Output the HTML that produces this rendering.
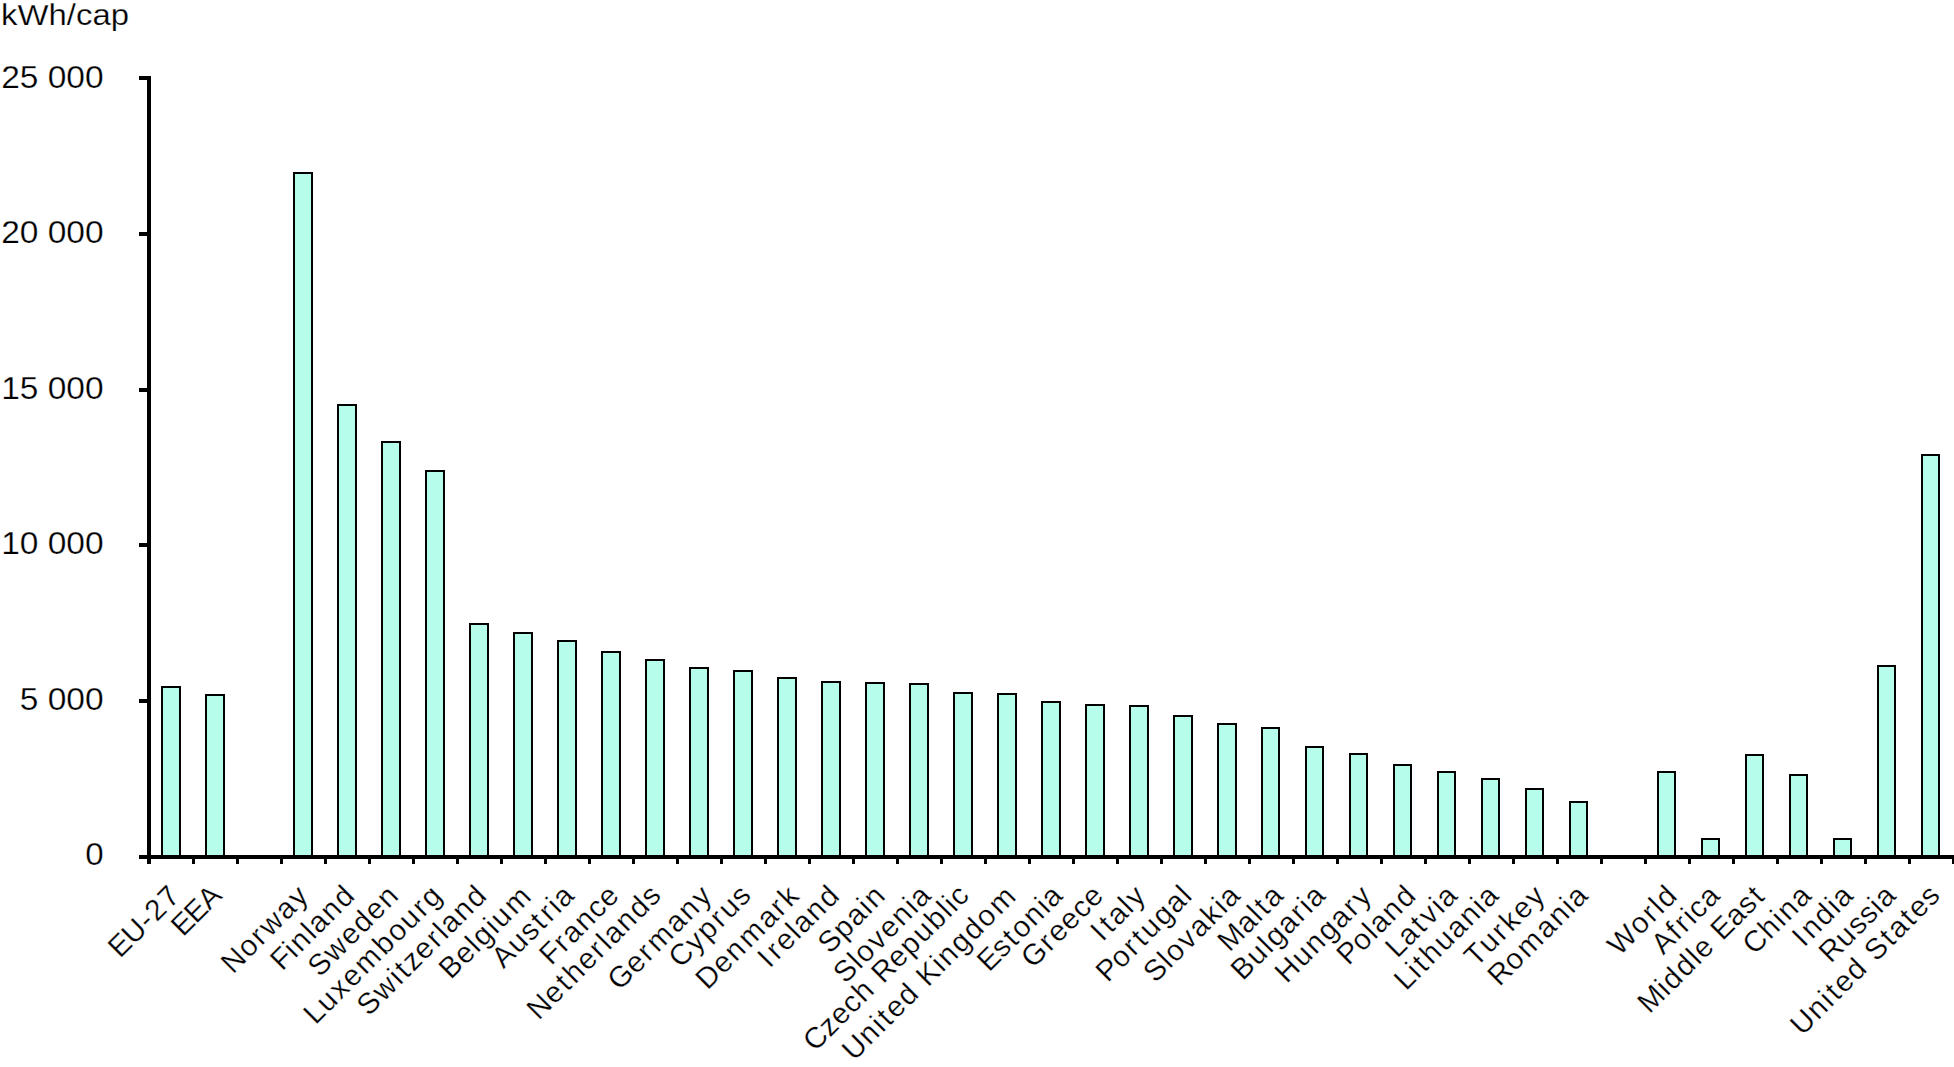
<!DOCTYPE html><html><head><meta charset="utf-8"><style>html,body{margin:0;padding:0;background:#fff;width:1954px;height:1067px;overflow:hidden}svg{display:block}text{font-family:"Liberation Sans",sans-serif;fill:#000;stroke:#fff;stroke-width:0.25px}</style></head><body>
<svg width="1954" height="1067" viewBox="0 0 1954 1067">
<rect x="162" y="687" width="18" height="170" fill="#b6fdec" stroke="#000" stroke-width="2"/>
<rect x="206" y="695" width="18" height="162" fill="#b6fdec" stroke="#000" stroke-width="2"/>
<rect x="294" y="173" width="18" height="684" fill="#b6fdec" stroke="#000" stroke-width="2"/>
<rect x="338" y="405" width="18" height="452" fill="#b6fdec" stroke="#000" stroke-width="2"/>
<rect x="382" y="442" width="18" height="415" fill="#b6fdec" stroke="#000" stroke-width="2"/>
<rect x="426" y="471" width="18" height="386" fill="#b6fdec" stroke="#000" stroke-width="2"/>
<rect x="470" y="624" width="18" height="233" fill="#b6fdec" stroke="#000" stroke-width="2"/>
<rect x="514" y="633" width="18" height="224" fill="#b6fdec" stroke="#000" stroke-width="2"/>
<rect x="558" y="641" width="18" height="216" fill="#b6fdec" stroke="#000" stroke-width="2"/>
<rect x="602" y="652" width="18" height="205" fill="#b6fdec" stroke="#000" stroke-width="2"/>
<rect x="646" y="660" width="18" height="197" fill="#b6fdec" stroke="#000" stroke-width="2"/>
<rect x="690" y="668" width="18" height="189" fill="#b6fdec" stroke="#000" stroke-width="2"/>
<rect x="734" y="671" width="18" height="186" fill="#b6fdec" stroke="#000" stroke-width="2"/>
<rect x="778" y="678" width="18" height="179" fill="#b6fdec" stroke="#000" stroke-width="2"/>
<rect x="822" y="682" width="18" height="175" fill="#b6fdec" stroke="#000" stroke-width="2"/>
<rect x="866" y="683" width="18" height="174" fill="#b6fdec" stroke="#000" stroke-width="2"/>
<rect x="910" y="684" width="18" height="173" fill="#b6fdec" stroke="#000" stroke-width="2"/>
<rect x="954" y="693" width="18" height="164" fill="#b6fdec" stroke="#000" stroke-width="2"/>
<rect x="998" y="694" width="18" height="163" fill="#b6fdec" stroke="#000" stroke-width="2"/>
<rect x="1042" y="702" width="18" height="155" fill="#b6fdec" stroke="#000" stroke-width="2"/>
<rect x="1086" y="705" width="18" height="152" fill="#b6fdec" stroke="#000" stroke-width="2"/>
<rect x="1130" y="706" width="18" height="151" fill="#b6fdec" stroke="#000" stroke-width="2"/>
<rect x="1174" y="716" width="18" height="141" fill="#b6fdec" stroke="#000" stroke-width="2"/>
<rect x="1218" y="724" width="18" height="133" fill="#b6fdec" stroke="#000" stroke-width="2"/>
<rect x="1262" y="728" width="17" height="129" fill="#b6fdec" stroke="#000" stroke-width="2"/>
<rect x="1306" y="747" width="17" height="110" fill="#b6fdec" stroke="#000" stroke-width="2"/>
<rect x="1350" y="754" width="17" height="103" fill="#b6fdec" stroke="#000" stroke-width="2"/>
<rect x="1394" y="765" width="17" height="92" fill="#b6fdec" stroke="#000" stroke-width="2"/>
<rect x="1438" y="772" width="17" height="85" fill="#b6fdec" stroke="#000" stroke-width="2"/>
<rect x="1482" y="779" width="17" height="78" fill="#b6fdec" stroke="#000" stroke-width="2"/>
<rect x="1526" y="789" width="17" height="68" fill="#b6fdec" stroke="#000" stroke-width="2"/>
<rect x="1570" y="802" width="17" height="55" fill="#b6fdec" stroke="#000" stroke-width="2"/>
<rect x="1658" y="772" width="17" height="85" fill="#b6fdec" stroke="#000" stroke-width="2"/>
<rect x="1702" y="839" width="17" height="18" fill="#b6fdec" stroke="#000" stroke-width="2"/>
<rect x="1746" y="755" width="17" height="102" fill="#b6fdec" stroke="#000" stroke-width="2"/>
<rect x="1790" y="775" width="17" height="82" fill="#b6fdec" stroke="#000" stroke-width="2"/>
<rect x="1834" y="839" width="17" height="18" fill="#b6fdec" stroke="#000" stroke-width="2"/>
<rect x="1878" y="666" width="17" height="191" fill="#b6fdec" stroke="#000" stroke-width="2"/>
<rect x="1922" y="455" width="17" height="402" fill="#b6fdec" stroke="#000" stroke-width="2"/>
<rect x="147" y="76" width="4" height="788" fill="#000"/>
<rect x="139" y="855" width="1815" height="4" fill="#000"/>
<rect x="139" y="855" width="10" height="4" fill="#000"/>
<rect x="139" y="699" width="10" height="4" fill="#000"/>
<rect x="139" y="543" width="10" height="4" fill="#000"/>
<rect x="139" y="388" width="10" height="4" fill="#000"/>
<rect x="139" y="232" width="10" height="4" fill="#000"/>
<rect x="139" y="76" width="10" height="4" fill="#000"/>
<rect x="148" y="857" width="3" height="7" fill="#000"/>
<rect x="192" y="857" width="3" height="7" fill="#000"/>
<rect x="236" y="857" width="3" height="7" fill="#000"/>
<rect x="280" y="857" width="3" height="7" fill="#000"/>
<rect x="324" y="857" width="3" height="7" fill="#000"/>
<rect x="368" y="857" width="3" height="7" fill="#000"/>
<rect x="412" y="857" width="3" height="7" fill="#000"/>
<rect x="456" y="857" width="3" height="7" fill="#000"/>
<rect x="500" y="857" width="3" height="7" fill="#000"/>
<rect x="544" y="857" width="3" height="7" fill="#000"/>
<rect x="588" y="857" width="3" height="7" fill="#000"/>
<rect x="632" y="857" width="3" height="7" fill="#000"/>
<rect x="676" y="857" width="3" height="7" fill="#000"/>
<rect x="720" y="857" width="3" height="7" fill="#000"/>
<rect x="764" y="857" width="3" height="7" fill="#000"/>
<rect x="808" y="857" width="3" height="7" fill="#000"/>
<rect x="852" y="857" width="3" height="7" fill="#000"/>
<rect x="896" y="857" width="3" height="7" fill="#000"/>
<rect x="940" y="857" width="3" height="7" fill="#000"/>
<rect x="984" y="857" width="3" height="7" fill="#000"/>
<rect x="1028" y="857" width="3" height="7" fill="#000"/>
<rect x="1072" y="857" width="3" height="7" fill="#000"/>
<rect x="1116" y="857" width="3" height="7" fill="#000"/>
<rect x="1160" y="857" width="3" height="7" fill="#000"/>
<rect x="1204" y="857" width="3" height="7" fill="#000"/>
<rect x="1248" y="857" width="3" height="7" fill="#000"/>
<rect x="1292" y="857" width="3" height="7" fill="#000"/>
<rect x="1336" y="857" width="3" height="7" fill="#000"/>
<rect x="1380" y="857" width="3" height="7" fill="#000"/>
<rect x="1424" y="857" width="3" height="7" fill="#000"/>
<rect x="1468" y="857" width="3" height="7" fill="#000"/>
<rect x="1512" y="857" width="3" height="7" fill="#000"/>
<rect x="1556" y="857" width="3" height="7" fill="#000"/>
<rect x="1600" y="857" width="3" height="7" fill="#000"/>
<rect x="1644" y="857" width="3" height="7" fill="#000"/>
<rect x="1688" y="857" width="3" height="7" fill="#000"/>
<rect x="1732" y="857" width="3" height="7" fill="#000"/>
<rect x="1776" y="857" width="3" height="7" fill="#000"/>
<rect x="1820" y="857" width="3" height="7" fill="#000"/>
<rect x="1864" y="857" width="3" height="7" fill="#000"/>
<rect x="1908" y="857" width="3" height="7" fill="#000"/>
<rect x="1952" y="857" width="3" height="7" fill="#000"/>
<text x="103.6" y="865.00" font-size="31" text-anchor="end" textLength="18.4" lengthAdjust="spacingAndGlyphs">0</text>
<text x="103.6" y="709.60" font-size="31" text-anchor="end" textLength="83.9" lengthAdjust="spacingAndGlyphs">5 000</text>
<text x="103.6" y="554.20" font-size="31" text-anchor="end" textLength="102.4" lengthAdjust="spacingAndGlyphs">10 000</text>
<text x="103.6" y="398.80" font-size="31" text-anchor="end" textLength="102.4" lengthAdjust="spacingAndGlyphs">15 000</text>
<text x="103.6" y="243.40" font-size="31" text-anchor="end" textLength="102.4" lengthAdjust="spacingAndGlyphs">20 000</text>
<text x="103.6" y="88.00" font-size="31" text-anchor="end" textLength="102.4" lengthAdjust="spacingAndGlyphs">25 000</text>
<text x="1" y="25" font-size="29.5" textLength="128.0" lengthAdjust="spacingAndGlyphs">kWh/cap</text>
<text transform="translate(175.00,890) rotate(-45) scale(1.0,1)" x="-87.71 -68.74 -47.09 -35.86 -17.42" y="10" font-size="29.5">EU-27</text>
<text transform="translate(216.29,890) rotate(-45) scale(1.0,1)" x="-57.17 -38.84 -19.76" y="10" font-size="29.5">EEA</text>
<text transform="translate(303.57,890) rotate(-45) scale(1.0,1)" x="-109.80 -87.71 -69.42 -57.11 -34.09 -15.96" y="10" font-size="29.5">Norway</text>
<text transform="translate(349.66,890) rotate(-45) scale(1.0,1)" x="-105.45 -87.41 -79.18 -61.10 -53.34 -35.45 -17.24" y="10" font-size="29.5">Finland</text>
<text transform="translate(393.55,890) rotate(-45) scale(1.0,1)" x="-114.47 -93.50 -70.55 -52.88 -35.20 -17.38" y="10" font-size="29.5">Sweden</text>
<text transform="translate(436.94,890) rotate(-45) scale(1.0,1)" x="-181.78 -164.53 -145.94 -129.54 -110.87 -83.65 -65.81 -47.83 -29.17 -17.24" y="10" font-size="29.5">Luxembourg</text>
<text transform="translate(481.63,890) rotate(-45) scale(1.0,1)" x="-169.54 -148.58 -125.37 -116.50 -106.45 -91.03 -72.90 -61.10 -53.34 -35.45 -17.24" y="10" font-size="29.5">Switzerland</text>
<text transform="translate(526.92,890) rotate(-45) scale(1.0,1)" x="-117.60 -97.38 -79.84 -71.76 -53.82 -45.60 -26.40" y="10" font-size="29.5">Belgium</text>
<text transform="translate(568.91,890) rotate(-45) scale(1.0,1)" x="-102.41 -81.67 -64.11 -47.57 -36.48 -24.68 -16.92" y="10" font-size="29.5">Austria</text>
<text transform="translate(613.50,890) rotate(-45) scale(1.0,1)" x="-97.91 -79.28 -67.67 -49.77 -32.21 -16.85" y="10" font-size="29.5">France</text>
<text transform="translate(655.49,890) rotate(-45) scale(1.0,1)" x="-175.14 -153.20 -134.74 -123.96 -106.14 -88.01 -76.21 -68.45 -50.56 -32.35 -14.93" y="10" font-size="29.5">Netherlands</text>
<text transform="translate(706.88,890) rotate(-45) scale(1.0,1)" x="-133.55 -110.40 -92.27 -79.35 -52.44 -34.55 -15.96" y="10" font-size="29.5">Germany</text>
<text transform="translate(745.57,890) rotate(-45) scale(1.0,1)" x="-101.86 -79.88 -63.09 -44.57 -32.49 -14.93" y="10" font-size="29.5">Cyprus</text>
<text transform="translate(794.26,890) rotate(-45) scale(1.0,1)" x="-132.65 -110.40 -92.58 -73.38 -46.47 -28.27 -15.96" y="10" font-size="29.5">Denmark</text>
<text transform="translate(834.25,890) rotate(-45) scale(1.0,1)" x="-101.68 -90.19 -78.64 -61.10 -53.34 -35.45 -17.24" y="10" font-size="29.5">Ireland</text>
<text transform="translate(880.24,890) rotate(-45) scale(1.0,1)" x="-81.56 -60.97 -43.22 -25.61 -17.38" y="10" font-size="29.5">Spain</text>
<text transform="translate(925.53,890) rotate(-45) scale(1.0,1)" x="-123.49 -103.04 -95.19 -76.98 -60.58 -42.76 -24.68 -16.92" y="10" font-size="29.5">Slovenia</text>
<text transform="translate(963.42,890) rotate(-45) scale(1.0,1)" x="-219.88 -198.86 -183.44 -166.41 -150.51 -132.13 -123.51 -102.34 -84.66 -66.45 -48.24 -30.30 -22.36 -14.93" y="10" font-size="29.5">Czech Republic</text>
<text transform="translate(1011.51,890) rotate(-45) scale(1.0,1)" x="-232.90 -210.66 -192.58 -183.71 -173.46 -155.79 -137.55 -128.14 -107.56 -99.34 -81.12 -63.06 -45.22 -26.40" y="10" font-size="29.5">United Kingdom</text>
<text transform="translate(1057.50,890) rotate(-45) scale(1.0,1)" x="-106.87 -87.69 -71.15 -60.74 -42.76 -24.68 -16.92" y="10" font-size="29.5">Estonia</text>
<text transform="translate(1098.09,890) rotate(-45) scale(1.0,1)" x="-102.05 -78.06 -66.52 -49.24 -32.21 -16.85" y="10" font-size="29.5">Greece</text>
<text transform="translate(1140.78,890) rotate(-45) scale(1.0,1)" x="-64.19 -52.35 -42.03 -24.42 -15.96" y="10" font-size="29.5">Italy</text>
<text transform="translate(1186.77,890) rotate(-45) scale(1.0,1)" x="-121.79 -102.61 -84.33 -71.61 -60.82 -42.61 -24.86 -7.25" y="10" font-size="29.5">Portugal</text>
<text transform="translate(1234.86,890) rotate(-45) scale(1.0,1)" x="-122.45 -101.99 -94.14 -75.93 -59.46 -41.33 -24.68 -16.92" y="10" font-size="29.5">Slovakia</text>
<text transform="translate(1278.05,890) rotate(-45) scale(1.0,1)" x="-78.62 -53.72 -36.10 -27.24 -16.92" y="10" font-size="29.5">Malta</text>
<text transform="translate(1320.04,890) rotate(-45) scale(1.0,1)" x="-119.34 -98.58 -80.50 -72.42 -54.68 -36.48 -24.68 -16.92" y="10" font-size="29.5">Bulgaria</text>
<text transform="translate(1366.83,890) rotate(-45) scale(1.0,1)" x="-123.32 -100.79 -82.43 -64.22 -46.47 -28.27 -15.96" y="10" font-size="29.5">Hungary</text>
<text transform="translate(1410.82,890) rotate(-45) scale(1.0,1)" x="-97.98 -78.80 -61.10 -53.34 -35.45 -17.24" y="10" font-size="29.5">Poland</text>
<text transform="translate(1452.11,890) rotate(-45) scale(1.0,1)" x="-87.68 -70.89 -52.35 -41.33 -24.68 -16.92" y="10" font-size="29.5">Latvia</text>
<text transform="translate(1493.30,890) rotate(-45) scale(1.0,1)" x="-133.53 -116.55 -107.69 -96.90 -78.54 -60.65 -42.76 -24.68 -16.92" y="10" font-size="29.5">Lithuania</text>
<text transform="translate(1540.09,890) rotate(-45) scale(1.0,1)" x="-100.33 -81.38 -62.72 -50.41 -34.01 -15.96" y="10" font-size="29.5">Turkey</text>
<text transform="translate(1582.68,890) rotate(-45) scale(1.0,1)" x="-127.71 -106.38 -87.56 -60.65 -42.76 -24.68 -16.92" y="10" font-size="29.5">Romania</text>
<text transform="translate(1672.06,890) rotate(-45) scale(1.0,1)" x="-84.26 -55.40 -37.12 -25.32 -17.24" y="10" font-size="29.5">World</text>
<text transform="translate(1714.65,890) rotate(-45) scale(1.0,1)" x="-82.83 -62.07 -51.59 -39.79 -32.36 -16.92" y="10" font-size="29.5">Africa</text>
<text transform="translate(1759.94,890) rotate(-45) scale(1.0,1)" x="-166.19 -141.10 -133.02 -114.96 -97.02 -89.33 -71.49 -62.97 -43.45 -26.36 -9.81" y="10" font-size="29.5">Middle East</text>
<text transform="translate(1806.03,890) rotate(-45) scale(1.0,1)" x="-82.86 -61.11 -43.04 -34.81 -16.92" y="10" font-size="29.5">China</text>
<text transform="translate(1847.92,890) rotate(-45) scale(1.0,1)" x="-72.02 -60.82 -42.61 -24.68 -16.92" y="10" font-size="29.5">India</text>
<text transform="translate(1890.61,890) rotate(-45) scale(1.0,1)" x="-94.68 -72.97 -55.41 -40.30 -24.68 -16.92" y="10" font-size="29.5">Russia</text>
<text transform="translate(1934.60,890) rotate(-45) scale(1.0,1)" x="-197.05 -174.81 -156.73 -147.87 -137.62 -119.94 -101.71 -92.43 -71.06 -60.74 -42.20 -31.95 -14.93" y="10" font-size="29.5">United States</text>
</svg></body></html>
